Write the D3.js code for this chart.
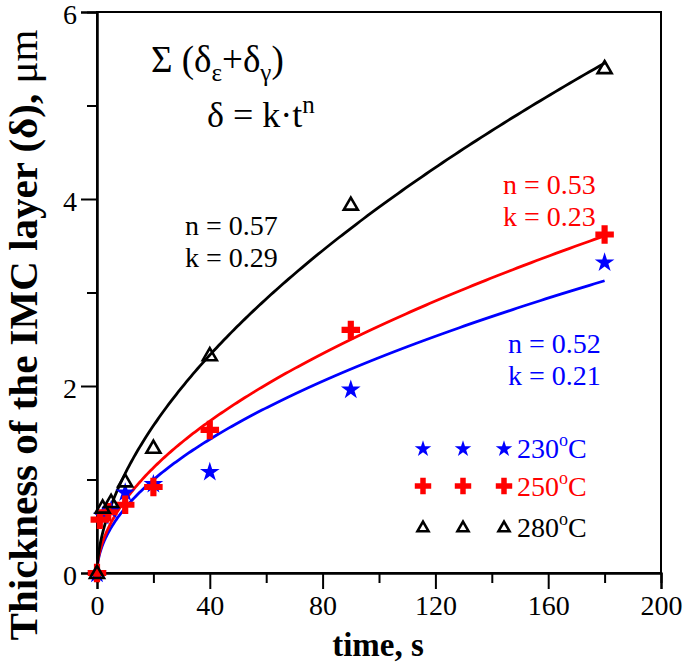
<!DOCTYPE html>
<html><head><meta charset="utf-8">
<script src="https://cdn.jsdelivr.net/npm/d3@7/dist/d3.min.js"></script>
<style>body{margin:0;background:#fff}svg{display:block}
svg text{font-family:"Liberation Serif","Tinos","Times New Roman","Nimbus Roman","DejaVu Serif",serif !important;}</style>
</head><body>
<script>
// ---- data ----
const seriesNames = ["230°C", "250°C", "280°C"];
const seriesColors = ["#0000ff", "#ff0000", "#000000"];
const time230 = [0, 2, 5, 10, 20, 40, 90, 180];
const thick230 = [0, 0.62, 0.68, 0.87, 0.96, 1.09, 1.97, 3.33];
const time250 = [0, 1, 4, 10, 20, 40, 90, 180];
const thick250 = [0, 0.57, 0.65, 0.73, 0.92, 1.53, 2.60, 3.62];
const time280 = [0, 2, 5, 10, 20, 40, 90, 180];
const thick280 = [0, 0.70, 0.76, 0.98, 1.34, 2.33, 3.94, 5.40];
const fitN = [0.52, 0.53, 0.565];
const fitK = [0.21, 0.23, 0.29];
const fitLabelN = ["n = 0.52", "n = 0.53", "n = 0.57"];
const fitLabelK = ["k = 0.21", "k = 0.23", "k = 0.29"];
const xTicks = [0, 40, 80, 120, 160, 200];
const xMinor = [20, 60, 100, 140, 180];
const yTicks = [0, 2, 4, 6];
const yMinor = [1, 3, 5];

const W = 685, H = 665;
const m = {l: 97, r: 24, t: 12, b: 92};
const svg = d3.select("body").append("svg").attr("width", W).attr("height", H);
const x = d3.scaleLinear().domain([0, 200]).range([m.l, W - m.r]);
const y = d3.scaleLinear().domain([0, 6]).range([H - m.b, m.t]);

// frame
svg.append("rect").attr("x", x(0)).attr("y", y(6)).attr("width", x(200) - x(0)).attr("height", y(0) - y(6))
  .attr("fill", "none").attr("stroke", "#000").attr("stroke-width", 2);

// axes
const xAxis = svg.append("g").attr("transform", `translate(0,${y(0)})`)
  .call(d3.axisBottom(x).tickValues(xTicks).tickSize(16).tickPadding(6).tickFormat(d3.format("d")));
const xAxisMinor = svg.append("g").attr("transform", `translate(0,${y(0)})`)
  .call(d3.axisBottom(x).tickValues(xMinor).tickSize(10).tickFormat(""));
const yAxis = svg.append("g").attr("transform", `translate(${x(0)},0)`)
  .call(d3.axisLeft(y).tickValues(yTicks).tickSize(16).tickPadding(4).tickFormat(d3.format("d")));
const yAxisMinor = svg.append("g").attr("transform", `translate(${x(0)},0)`)
  .call(d3.axisLeft(y).tickValues(yMinor).tickSize(10).tickFormat(""));
[xAxis, xAxisMinor, yAxis, yAxisMinor].forEach(g => {
  g.select(".domain").attr("stroke-width", 2);
  g.selectAll(".tick line").attr("stroke-width", 2);
  g.selectAll("text").attr("font-size", 28).attr("fill", "#000");
});
yAxis.selectAll("text").attr("dy", "0.42em");

// axis titles
svg.append("text").attr("x", 378).attr("y", 656).attr("text-anchor", "middle")
  .attr("font-size", 33).attr("font-weight", "bold").text("time, s");
const yt = svg.append("text").attr("transform", `translate(37,${335}) rotate(-90)`).attr("text-anchor", "middle")
  .attr("font-size", 41).attr("font-weight", "bold");
yt.append("tspan").text("Thickness of the IMC layer (δ), ");
yt.append("tspan").attr("font-weight", "normal").text("μm");

// fit curves
const times = [time230, time250, time280];
const values = [thick230, thick250, thick280];
const line = d3.line().x(d => x(d[0])).y(d => y(d[1]));
for (let s = 0; s < 3; s++) {
  const tmax = d3.max(times[s]);
  const pts = d3.range(0, 201).map(i => { const t = tmax * Math.pow(i / 200, 2); return [t, fitK[s] * Math.pow(t, fitN[s])]; });
  svg.append("path").attr("d", line(pts)).attr("fill", "none").attr("stroke", seriesColors[s]).attr("stroke-width", 2.8);
}

// markers
const starPath = d3.symbol().type(d3.symbolStar);
const crossPath = d3.symbol().type(d3.symbolCross);
function tri(cx, cy, s) {
  const h = s * Math.sqrt(3) / 2;
  return `M${cx},${cy - h * 2 / 3}L${cx + s / 2},${cy + h / 3}L${cx - s / 2},${cy + h / 3}Z`;
}
function marker(g, s, cx, cy, big) {
  if (s === 0) g.append("path").attr("d", starPath.size(big ? 120 : 85)()).attr("transform", `translate(${cx},${cy + 1})`).attr("fill", seriesColors[0]);
  else if (s === 1) g.append("path").attr("d", crossPath.size(big ? 190 : 150)()).attr("transform", `translate(${cx},${cy})`).attr("fill", seriesColors[1]);
  else g.append("path").attr("d", tri(cx, cy + 1, big ? 14 : 11)).attr("fill", "none").attr("stroke", "#000").attr("stroke-width", 2.6).attr("stroke-linejoin", "miter");
}
const mg = svg.append("g");
for (let s = 0; s < 3; s++) {
  times[s].forEach((t, i) => marker(mg, s, x(t), y(values[s][i]), true));
}

// annotations
function txt(xp, yp, str, color, size) {
  return svg.append("text").attr("x", xp).attr("y", yp).attr("font-size", size || 28).attr("fill", color || "#000").text(str);
}
const sig = svg.append("text").attr("x", 151).attr("y", 72).attr("font-size", 37);
sig.append("tspan").text("Σ (δ");
sig.append("tspan").attr("font-size", 25).attr("dy", 9).text("ε");
sig.append("tspan").attr("dy", -9).text("+δ");
sig.append("tspan").attr("font-size", 25).attr("dy", 9).text("γ");
sig.append("tspan").attr("dy", -9).text(")");
const eq = svg.append("text").attr("x", 207).attr("y", 127).attr("font-size", 36);
eq.append("tspan").text("δ = k·t");
eq.append("tspan").attr("font-size", 25).attr("dy", -14).text("n");

const labPos = [[508, 353], [503, 194], [185, 235]];
for (let s = 0; s < 3; s++) {
  txt(labPos[s][0], labPos[s][1], fitLabelN[s], seriesColors[s]);
  txt(labPos[s][0], labPos[s][1] + 32, fitLabelK[s], seriesColors[s]);
}

// legend
const legX = [423, 463, 504];
const legY = [448, 486, 527];
const lg = svg.append("g");
for (let s = 0; s < 3; s++) {
  legX.forEach(lx => marker(lg, s, lx, legY[s], false));
  const t = lg.append("text").attr("x", 517).attr("y", legY[s] + 10).attr("font-size", 28).attr("fill", seriesColors[s]);
  t.append("tspan").text(seriesNames[s].slice(0, 3));
  t.append("tspan").attr("font-size", 18).attr("dy", -12).text("o");
  t.append("tspan").attr("dy", 12).text("C");
}
</script>
</body></html>
